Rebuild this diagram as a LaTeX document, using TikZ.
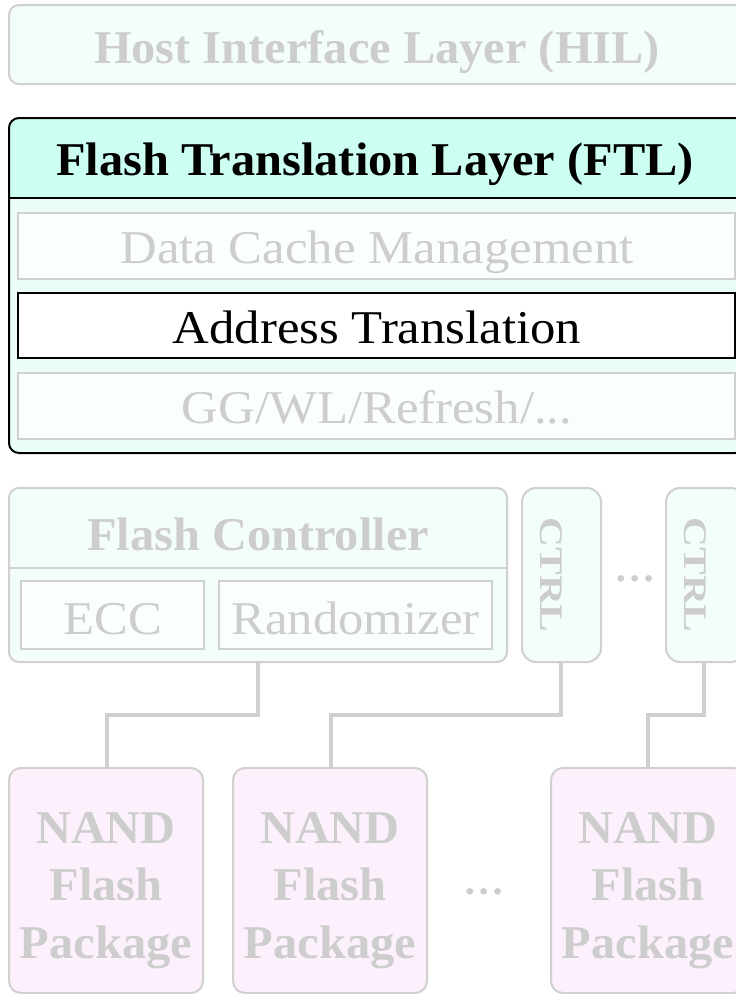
\documentclass[tikz,border=0pt]{standalone}
\usepackage{fontspec}
\setmainfont{Liberation Serif}[
  UprightFeatures={FakeStretch=1.08},
  BoldFeatures={FakeStretch=1.03}]
\usetikzlibrary{calc}

\definecolor{dimgray}{RGB}{205,205,205}
\definecolor{dimline}{RGB}{208,208,208}
\definecolor{cyanfill}{RGB}{243,254,252}
\definecolor{mintfill}{RGB}{204,255,242}
\definecolor{ftlbody}{RGB}{234,253,247}
\definecolor{subfill}{RGB}{250,255,254}
\definecolor{nandfill}{RGB}{252,240,252}

\tikzset{
  layerbox/.style={draw=dimline, line width=2pt, fill=cyanfill, rounded corners=10pt},
  ftlbox/.style={draw=black, line width=2pt, rounded corners=10pt},
  subbox/.style={draw=dimline, line width=1.8pt, fill=subfill},
  activebox/.style={draw=black, line width=2pt, fill=white},
  ctrlbox/.style={draw=dimline, line width=2pt, fill=cyanfill, rounded corners=14pt},
  nandbox/.style={draw=dimline, line width=2pt, fill=nandfill, rounded corners=12pt},
  wire/.style={draw=dimline, line width=3.4pt},
  bigtxt/.style={font=\fontsize{47}{55}\selectfont\bfseries, anchor=base, inner sep=0pt},
  midtxt/.style={font=\fontsize{47}{55}\selectfont, anchor=base, inner sep=0pt},
  dimbig/.style={bigtxt, text=dimgray},
  dimmid/.style={midtxt, text=dimgray},
  dots/.style={text=dimgray, font=\fontsize{40}{40}\selectfont\bfseries, anchor=base, inner sep=0pt},
  ctrltxt/.style={text=dimgray, font=\fontsize{33}{33}\selectfont\bfseries, rotate=-90, inner sep=0pt},
}

\begin{document}
\begin{tikzpicture}[x=1pt, y=-1pt]
\useasboundingbox (0,0) rectangle (736,994);
\clip (0,0) rectangle (736,994);

% Host interface layer
\draw[layerbox] (9,5) rectangle (745,84);
\node[dimbig] (hil) at (377,63) {Host Interface Layer (HIL)};

% Flash translation layer: body, header band, divider
\fill[ftlbody, rounded corners=10pt] (9,118) rectangle (745,453);
\begin{scope}
  \clip (0,110) rectangle (745,198);
  \fill[mintfill, rounded corners=10pt] (9,118) rectangle (745,453);
\end{scope}
\draw[black, line width=2pt] (9,198) -- (745,198);
\draw[ftlbox] (9,118) rectangle (745,453);
\node[bigtxt] (ftl) at (375,175) {Flash Translation Layer (FTL)};

\draw[subbox] (18,213) rectangle (735,279);
\node[dimmid] (dcm) at (377,263) {Data Cache Management};
\draw[activebox] (18,293) rectangle (735,358);
\node[midtxt] (atr) at (377,343) {Address Translation};
\draw[subbox] (18,373) rectangle (735,439);
\node[dimmid] (gc) at (377,423) {GG/WL/Refresh/...};

% Flash controller with its two sub-blocks
\draw[layerbox] (9,488) rectangle (507,662);
\draw[dimline, line width=2pt] (9,568) -- (507,568);
\node[dimbig] (fc) at (258,550) {Flash Controller};
\draw[subbox] (21,581) rectangle (204,649);
\node[dimmid] (ecc) at (112.5,634) {ECC};
\draw[subbox] (219,581) rectangle (492,649);
\node[dimmid] (rnd) at (355.5,634) {Randomizer};

% Channel controllers
\draw[ctrlbox] (522,488) rectangle (601,662);
\node[ctrltxt] (c1) at (551.5,575) {\scalebox{1.22}[1]{CTRL}};
\node[dots] (d1) at (635.5,581) {…};
\draw[ctrlbox] (666,488) rectangle (745,662);
\node[ctrltxt] (c2) at (695.5,575) {\scalebox{1.22}[1]{CTRL}};

% NAND flash packages
\draw[nandbox] (9,768) rectangle (203,993);
\draw[nandbox] (233,768) rectangle (427,993);
\draw[nandbox] (551,768) rectangle (745,993);
\foreach \cx/\nm in {106/n1, 330/n2, 648/n3}{
  \node[dimbig] (\nm a) at (\cx,843) {NAND};
  \node[dimbig] (\nm b) at (\cx,900) {Flash};
  \node[dimbig] (\nm c) at (\cx,958) {Package};
}
\node[dots] (d2) at (484.5,894) {…};

% Channel wiring
\coordinate (w1a) at (258,662); \coordinate (w1b) at (258,715);
\coordinate (w1c) at (107,715); \coordinate (w1d) at (107,768);
\coordinate (w2a) at (561,662); \coordinate (w2b) at (561,715);
\coordinate (w2c) at (331,715); \coordinate (w2d) at (331,768);
\coordinate (w3a) at (704,662); \coordinate (w3b) at (704,715);
\coordinate (w3c) at (648,715); \coordinate (w3d) at (648,768);
\draw[wire] (w1a) -- (w1b) -- (w1c) -- (w1d);
\draw[wire] (w2a) -- (w2b) -- (w2c) -- (w2d);
\draw[wire] (w3a) -- (w3b) -- (w3c) -- (w3d);
\end{tikzpicture}
\end{document}
